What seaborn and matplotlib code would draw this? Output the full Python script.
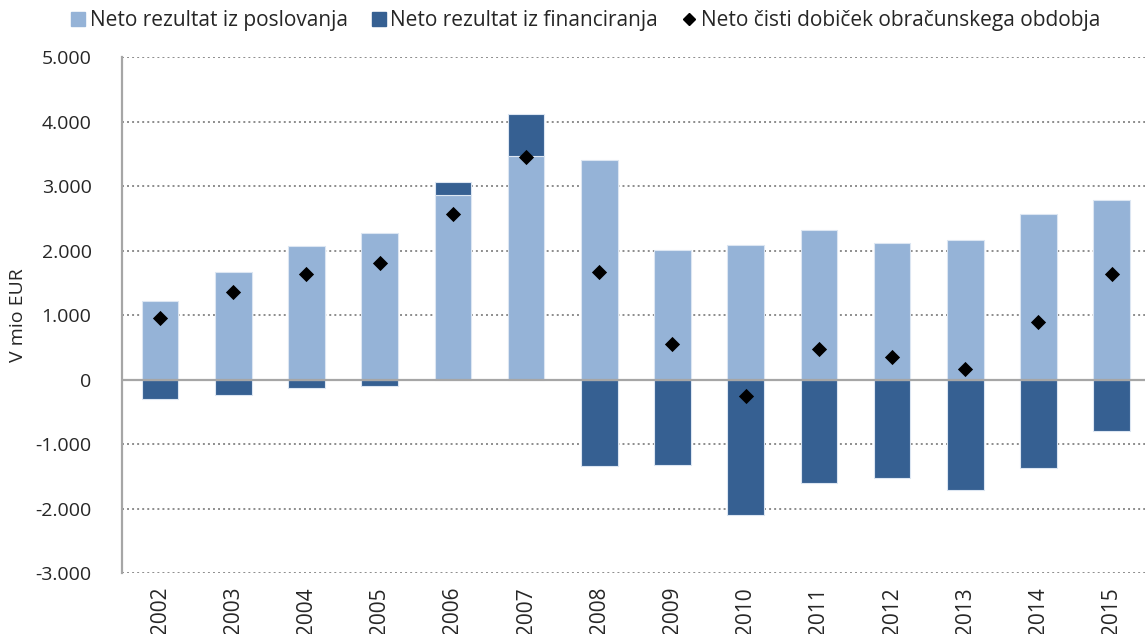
import matplotlib
matplotlib.use('Agg')
import numpy as np
import pandas as pd
import matplotlib.pyplot as plt
import seaborn as sns
from matplotlib.lines import Line2D
from matplotlib.ticker import FuncFormatter

years = ['2002', '2003', '2004', '2005', '2006', '2007', '2008',
         '2009', '2010', '2011', '2012', '2013', '2014', '2015']
poslovanje = [1220, 1670, 2075, 2270, 2865, 3465, 3400,
              2015, 2090, 2315, 2110, 2160, 2570, 2785]
financiranje = [-300, -240, -125, -100, 205, 650, -1335,
                -1320, -2100, -1610, -1530, -1710, -1375, -795]
dobicek = [960, 1360, 1640, 1810, 2570, 3445, 1660,
           545, -250, 470, 345, 170, 885, 1635]

lbl_pos = 'Neto rezultat iz poslovanja'
lbl_fin = 'Neto rezultat iz financiranja'
lbl_dob = 'Neto čisti dobiček obračunskega obdobja'

light = '#95B3D7'
dark = '#366092'

sns.set_style('white')
plt.rcParams['font.family'] = ['Open Sans', 'DejaVu Sans']

df = pd.DataFrame({'leto': years, 'pos': poslovanje, 'fin': financiranje, 'dob': dobicek})

fig = plt.figure(figsize=(11.45, 6.34), dpi=100)
ax = fig.add_axes([0.1066, 0.0962, 0.8934, 0.8138])

# gridlines first so bars sit on top
for v in range(-3000, 5001, 1000):
    if v != 0:
        ax.axhline(v, color='#8c8c8c', lw=1.4, ls=(0, (1, 1.6)), zorder=0)

sns.barplot(data=df, x='leto', y='pos', order=years, color=light, width=0.5,
            edgecolor='#dce6f2', linewidth=0.8, saturation=1, ax=ax, zorder=2)

# financing stacks on top of the operating bar when positive, below zero otherwise
fin = np.array(financiranje)
bottoms = np.where(fin > 0, np.array(poslovanje), 0)
ax.bar(np.arange(len(years)), fin, bottom=bottoms, width=0.5, color=dark,
       edgecolor='#dce6f2', linewidth=0.8, zorder=2)

ax.axhline(0, color='#a6a6a6', lw=1.6, zorder=3)

sns.scatterplot(data=df, x='leto', y='dob', marker='D', color='black', s=60,
                edgecolor='black', linewidth=0, ax=ax, zorder=4)

ax.set_xlim(-0.519, 13.456)
ax.set_ylim(-3000, 5000)
ax.set_yticks(range(-3000, 5001, 1000))
ax.yaxis.set_major_formatter(FuncFormatter(lambda v, p: f'{int(v):,}'.replace(',', '.')))
ax.tick_params(axis='y', labelsize=14, length=0, pad=22)
ax.tick_params(axis='x', labelsize=15, length=0, pad=10, rotation=90)
ax.set_xlabel('')
ax.set_ylabel('V mio EUR', fontsize=14)
ax.yaxis.set_label_coords(-0.093, 0.5)

for s in ['top', 'right', 'bottom']:
    ax.spines[s].set_visible(False)
ax.spines['left'].set_color('#a6a6a6')
ax.spines['left'].set_linewidth(1.6)

handles = [
    Line2D([], [], marker='s', ls='none', color=light, markersize=10),
    Line2D([], [], marker='s', ls='none', color=dark, markersize=10),
    Line2D([], [], marker='D', ls='none', color='black', markersize=6),
]
fig.legend(handles, [lbl_pos, lbl_fin, lbl_dob], loc='center', ncol=3,
           bbox_to_anchor=(0.51, 0.967), frameon=False, fontsize=15,
           handletextpad=0.05, columnspacing=1.0, handlelength=1.0)

fig.savefig('out.png', dpi=100)
